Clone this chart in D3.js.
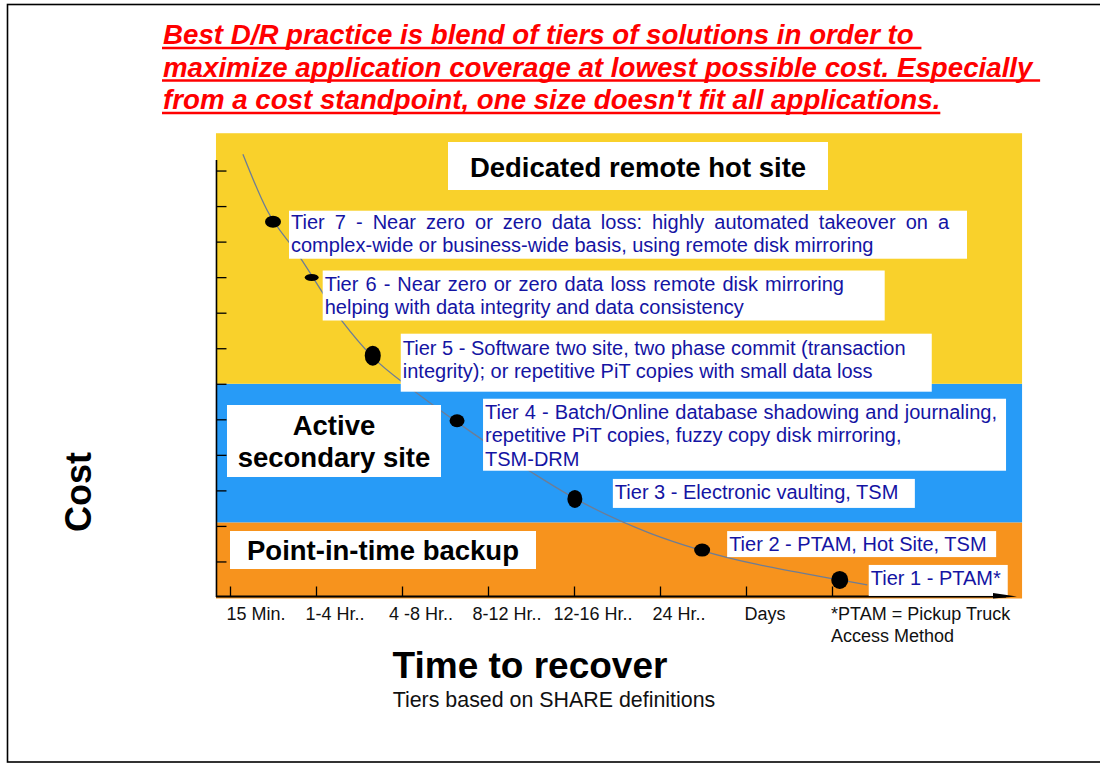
<!DOCTYPE html>
<html>
<head>
<meta charset="utf-8">
<script src="https://cdn.jsdelivr.net/npm/d3@7"></script>
<style>
  body { margin: 0; background: #fff; }
  text { font-family: "Liberation Sans", Arial, Helvetica, sans-serif; }
</style>
</head>
<body>
<div id="chart"></div>
<script>
// Datos
var timeLabels = ["15 Min.", "1-4 Hr..", "4 -8 Hr..", "8-12 Hr..", "12-16 Hr..", "24 Hr..", "Days"];
var noteLabel = ["*PTAM = Pickup Truck", "Access Method"];

var tierNames = ["Tier 1", "Tier 2", "Tier 3", "Tier 4", "Tier 5", "Tier 6", "Tier 7"];
var tierTime = [7.09, 5.49, 4.01, 2.64, 1.66, 0.95, 0.5];
var tierCost = [0.48, 1.32, 2.76, 4.96, 6.79, 8.99, 10.56];
var tierText = [
  ["Tier 1 - PTAM*"],
  ["Tier 2 - PTAM, Hot Site, TSM"],
  ["Tier 3 - Electronic vaulting, TSM"],
  ["Tier 4 - Batch/Online database shadowing and journaling,", "repetitive PiT copies, fuzzy copy disk mirroring,", "TSM-DRM"],
  ["Tier 5 - Software two site, two phase commit (transaction", "integrity); or repetitive PiT copies with small data loss"],
  ["Tier 6 - Near zero or zero data loss remote disk mirroring", "helping with data integrity and data consistency"],
  ["Tier 7 - Near zero or zero data loss: highly automated takeover on a", "complex-wide or business-wide basis, using remote disk mirroring"]
];

// Curva de coste
var curveTime = [0.15, 0.43, 0.78, 1.31, 1.66, 2.13, 2.64, 3.52, 4.02, 4.88, 5.47, 7.09, 7.41];
var curveCost = [12.46, 10.89, 9.68, 7.74, 6.75, 5.82, 4.92, 3.49, 2.76, 1.80, 1.32, 0.48, 0.34];

// Bandas de solucion
var bandNames = [["Point-in-time backup"], ["Active", "secondary site"], ["Dedicated remote hot site"]];
var bandFrom = [0, 2.1, 6];
var bandTo = [2.1, 6, 13.05];

var titleLines = [
  "Best D/R practice is blend of tiers of solutions in order to ",
  "maximize application coverage at lowest possible cost. Especially ",
  "from a cost standpoint, one size doesn't fit all applications."
];

// Estilos
var bandColors = ["#f7931d", "#279bf7", "#f9d12b"];
var textBlue = "#1414a3";
var dotRx = [8.5, 8, 7.5, 7.5, 8, 7, 8];
var dotRy = [9, 6.5, 9, 6.5, 10, 3.5, 6];
// cajas de texto: desplazamiento respecto al punto y tamano
var boxLayout = [
  {dx: 29, dy: -15, w: 139, h: 31, b: 20, ws: 0},
  {dx: 25, dy: -19, w: 269, h: 26, b: 20, ws: 0},
  {dx: 38, dy: -20, w: 302, h: 29, b: 20, ws: 0},
  {dx: 26, dy: -22, w: 523, h: 72, b: 20, ws: 0.5},
  {dx: 28, dy: -22, w: 531, h: 58, b: 21, ws: 0},
  {dx: 11, dy: -7, w: 562, h: 50, b: 20, ws: 1.5},
  {dx: 16, dy: -11, w: 678, h: 48, b: 18, ws: 4.5}
];
var bandBoxLayout = [
  {x: 230, y: 531, w: 306, h: 38, b: [29]},
  {x: 227, y: 405, w: 214, h: 72, b: [30, 62]},
  {x: 448, y: 142, w: 380, h: 48, b: [35]}
];

var W = 1100, H = 764;
var svg = d3.select("#chart").append("svg")
  .attr("width", W).attr("height", H);

// Marco
svg.append("rect")
  .attr("x", 7.5).attr("y", 4.5)
  .attr("width", 1100).attr("height", 757.5)
  .attr("fill", "none").attr("stroke", "#000").attr("stroke-width", 1.6);

// Escalas
var x = d3.scaleLinear().domain([0, 7]).range([230, 832]);
var y = d3.scaleLinear().domain([0, 13]).range([597, 135]);
var xLeft = x(-0.163), xRight = x(9.21);

// Bandas
svg.selectAll("rect.band")
  .data(bandFrom)
  .enter().append("rect")
  .attr("class", "band")
  .attr("x", xLeft)
  .attr("width", xRight - xLeft)
  .attr("y", function(d, i) { return y(bandTo[i]); })
  .attr("height", function(d, i) { return y(d) - y(bandTo[i]) + (i == 0 ? 1.5 : 0); })
  .attr("fill", function(d, i) { return bandColors[i]; });

// Ejes
var yAxis = d3.axisRight(y).tickValues(d3.range(1, 13)).tickSize(10).tickFormat("");
var gy = svg.append("g").attr("transform", "translate(" + (xLeft + 0.5) + ",0)").call(yAxis);
gy.select(".domain").remove();
gy.selectAll("line").attr("stroke", "#000").attr("stroke-width", 1.3);
svg.append("line")
  .attr("x1", xLeft + 0.5).attr("x2", xLeft + 0.5)
  .attr("y1", y(12.3)).attr("y2", y(0))
  .attr("stroke", "#000").attr("stroke-width", 1.6);

var xAxis = d3.axisTop(x).tickValues(d3.range(0, 8)).tickSize(10).tickFormat("");
var gx = svg.append("g").attr("transform", "translate(0," + (y(0) - 0.5) + ")").call(xAxis);
gx.select(".domain").remove();
gx.selectAll("line").attr("stroke", "#000").attr("stroke-width", 1.3);
svg.append("line")
  .attr("x1", xLeft).attr("x2", 1006)
  .attr("y1", y(0) - 0.5).attr("y2", y(0) - 0.5)
  .attr("stroke", "#000").attr("stroke-width", 1.8);

// Etiquetas del eje X
svg.selectAll("text.tick")
  .data(timeLabels)
  .enter().append("text")
  .attr("class", "tick")
  .attr("x", function(d, i) { return x(i) + (i == 0 ? 26 : 19); })
  .attr("y", 620)
  .attr("text-anchor", "middle")
  .style("font-size", "18px")
  .style("fill", "#111")
  .text(function(d) { return d; });

svg.selectAll("text.note")
  .data(noteLabel)
  .enter().append("text")
  .attr("class", "note")
  .attr("x", x(7) - 1)
  .attr("y", function(d, i) { return 620 + i * 22; })
  .style("font-size", "18px")
  .style("fill", "#111")
  .text(function(d) { return d; });

// Curva
var points = curveTime.map(function(t, i) { return [t, curveCost[i]]; });
var line = d3.line()
  .x(function(d) { return x(d[0]); })
  .y(function(d) { return y(d[1]); })
  .curve(d3.curveMonotoneX);
svg.append("path")
  .datum(points)
  .attr("d", line)
  .attr("fill", "none")
  .attr("stroke", "#6d7d96")
  .attr("stroke-width", 1.3);

// Puntos
svg.selectAll("ellipse.tier")
  .data(tierNames)
  .enter().append("ellipse")
  .attr("class", "tier")
  .attr("cx", function(d, i) { return x(tierTime[i]); })
  .attr("cy", function(d, i) { return y(tierCost[i]); })
  .attr("rx", function(d, i) { return dotRx[i]; })
  .attr("ry", function(d, i) { return dotRy[i]; })
  .attr("fill", "#000");

// Cajas de los niveles
var boxes = svg.selectAll("g.tierbox")
  .data(tierNames)
  .enter().append("g")
  .attr("class", "tierbox")
  .attr("transform", function(d, i) {
    return "translate(" + (x(tierTime[i]) + boxLayout[i].dx) + "," + (y(tierCost[i]) + boxLayout[i].dy) + ")";
  });
boxes.append("rect")
  .attr("width", function(d, i) { return boxLayout[i].w; })
  .attr("height", function(d, i) { return boxLayout[i].h; })
  .attr("fill", "#fff");
boxes.each(function(d, i) {
  d3.select(this).selectAll("text")
    .data(tierText[i])
    .enter().append("text")
    .attr("x", 2)
    .attr("y", function(t, j) { return boxLayout[i].b + j * 23.5; })
    .style("font-size", "20px")
    .style("word-spacing", function(t, j) { return (j == 0 ? boxLayout[i].ws : 0) + "px"; })
    .style("fill", textBlue)
    .text(function(t) { return t; });
});

// Cajas de las bandas
var bandBoxes = svg.selectAll("g.bandbox")
  .data(bandNames)
  .enter().append("g")
  .attr("class", "bandbox")
  .attr("transform", function(d, i) { return "translate(" + bandBoxLayout[i].x + "," + bandBoxLayout[i].y + ")"; });
bandBoxes.append("rect")
  .attr("width", function(d, i) { return bandBoxLayout[i].w; })
  .attr("height", function(d, i) { return bandBoxLayout[i].h; })
  .attr("fill", "#fff");
bandBoxes.each(function(d, i) {
  d3.select(this).selectAll("text")
    .data(d)
    .enter().append("text")
    .attr("x", bandBoxLayout[i].w / 2)
    .attr("y", function(t, j) { return bandBoxLayout[i].b[j]; })
    .attr("text-anchor", "middle")
    .style("font-size", "27.5px")
    .style("font-weight", "bold")
    .style("fill", "#000")
    .text(function(t) { return t; });
});

// Flecha del eje X
svg.append("path")
  .attr("d", "M" + 993 + "," + (y(0) - 4) + "L" + 1017 + "," + (y(0) - 0.5) + "L" + 993 + "," + (y(0) + 1.5) + "Z")
  .attr("fill", "#000");

// Titulos de ejes
svg.append("text")
  .attr("transform", "translate(91,492) rotate(-90)")
  .attr("text-anchor", "middle")
  .style("font-size", "36px")
  .style("font-weight", "bold")
  .text("Cost");

svg.append("text")
  .attr("x", 530).attr("y", 678)
  .attr("text-anchor", "middle")
  .style("font-size", "37px")
  .style("font-weight", "bold")
  .text("Time to recover");

svg.append("text")
  .attr("x", 554).attr("y", 707)
  .attr("text-anchor", "middle")
  .style("font-size", "21.4px")
  .style("fill", "#111")
  .text("Tiers based on SHARE definitions");

// Titulo en rojo subrayado
var title = svg.selectAll("text.title")
  .data(titleLines)
  .enter().append("text")
  .attr("class", "title")
  .attr("x", 163)
  .attr("y", function(d, i) { return 44 + i * 32.5; })
  .attr("xml:space", "preserve")
  .style("white-space", "pre")
  .style("font-size", "27.7px")
  .style("font-weight", "bold")
  .style("font-style", "italic")
  .style("fill", "#ff0000")
  .text(function(d) { return d; });

title.each(function(d, i) {
  var len = this.getComputedTextLength();
  svg.append("line")
    .attr("x1", 162).attr("x2", 163 + len)
    .attr("y1", 44 + i * 32.5 + 4).attr("y2", 44 + i * 32.5 + 4)
    .attr("stroke", "#ff0000").attr("stroke-width", 2.6);
});
</script>
</body>
</html>
